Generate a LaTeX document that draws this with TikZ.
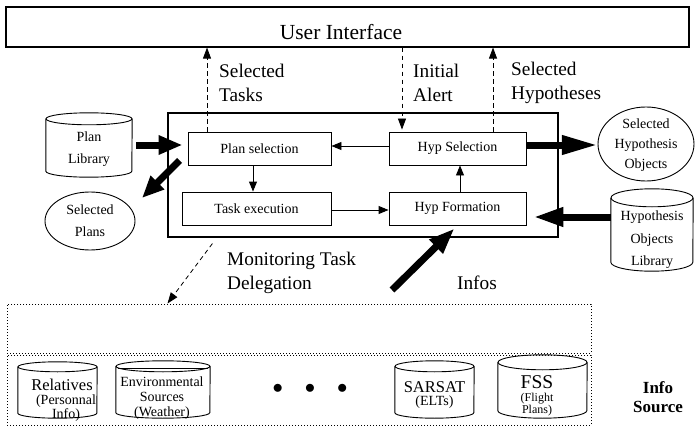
\documentclass[tikz,border=0pt]{standalone}
\usepackage{fontspec}
\setmainfont{Liberation Serif}
\usetikzlibrary{arrows.meta,calc}
% cylinder: name, cx, cy, width, height, ellipse y-radius
\newcommand{\dbcyl}[6]{%
  \node[minimum width=#4pt, minimum height=#5pt, inner sep=0pt] (#1) at (#2,#3) {};
  \draw[ln] ($(#1.north)+(0,#6)$) ellipse[x radius=#4/2, y radius=#6];
  \draw[ln] ($(#1.north west)+(0,#6)$) -- ($(#1.south west)+(0,-#6)$)
     arc[start angle=180, end angle=0, x radius=#4/2, y radius=#6]
     -- ($(#1.north east)+(0,#6)$);
}
\begin{document}
\begin{tikzpicture}[x=1pt,y=-1pt,
  ln/.style={line width=0.9pt},
  box/.style={draw, line width=0.9pt, inner sep=0pt, font=\fontsize{14}{16}\selectfont},
  big/.style={font=\fontsize{19.3}{24}\selectfont, align=left, inner sep=0pt, anchor=west},
  sm/.style={font=\fontsize{14}{22}\selectfont, align=center, inner sep=0pt},
  arr/.style={line width=0.9pt, -{Triangle[length=10pt,width=8pt]}},
  darr/.style={line width=0.8pt, dash pattern=on 4.5pt off 3.5pt, -{Triangle[length=11pt,width=8pt]}},
  fat/.style={line width=7pt, -{Triangle[length=24pt,width=18pt]}},
  dotbox/.style={draw, line width=1pt, dash pattern=on 1pt off 2pt}
]
\useasboundingbox (0,0) rectangle (697,428);

% User interface
\node[draw, line width=1.1pt, minimum width=683pt, minimum height=40pt, inner sep=0pt] (ui) at (347.5,27) {};
\node[font=\fontsize{21.5}{24}\selectfont, inner sep=0pt] (uitext) at (341,32) {User Interface};

% main box and inner boxes
\node[draw, line width=1.1pt, minimum width=390pt, minimum height=124pt, inner sep=0pt] (outer) at (363,175) {};
\node[box, minimum width=143pt, minimum height=33pt] (plansel) at (259.5,148.5) {Plan selection};
\node[box, minimum width=149pt, minimum height=33pt] (taskex) at (256.5,208.5) {Task execution};
\node[box, minimum width=137pt, minimum height=33pt] (hypsel) at (457.5,148.5) {Hyp Selection};
\node[box, minimum width=137pt, minimum height=33pt] (hypform) at (457.5,208.5) {Hyp Formation};

% inner arrows
\coordinate (cx1) at (253,0);
\coordinate (cx2) at (460,0);
\coordinate (cy1) at (0,146);
\coordinate (cy2) at (0,210);
\draw[arr] (plansel.south -| cx1) -- (taskex.north -| cx1);
\draw[arr] (hypsel.west |- cy1) -- (plansel.east |- cy1);
\draw[arr] (taskex.east |- cy2) -- (hypform.west |- cy2);
\draw[arr] (hypform.north -| cx2) -- (hypsel.south -| cx2);

% dashed arrows to/from UI
\coordinate (dx1) at (207,0);
\coordinate (dx2) at (402,0);
\coordinate (dx3) at (493,0);
\draw[darr] (plansel.north -| dx1) -- (ui.south -| dx1);
\draw[darr] (ui.south -| dx2) -- ($(hypsel.north -| dx2)+(0,-2)$);
\draw[darr] (hypsel.north -| dx3) -- (ui.south -| dx3);

\node[big] (lst) at (219,83) {Selected\\Tasks};
\node[big] (lia) at (413,83) {Initial\\Alert};
\node[big] (lsh) at (511,83) {Selected\\Hypotheses};

% plan library & selected plans
\dbcyl{plib}{89}{145}{86}{64}{6}
\node[sm] (plibt) at (89,149.5) {Plan\\Library};
\draw[ln] (90,221) ellipse[x radius=45, y radius=29];
\node[sm, minimum width=90pt, minimum height=58pt] (splans) at (90,221) {Selected\\Plans};
\draw[fat] ($(plib.east)+(4,0)$) -- ($(plansel.west |- plib.east)+(-5,0)$);
\draw[fat, -{Triangle[length=22pt,width=18pt]}] ($(plansel.south west)+(-8,-5)$) -- ($(splans.center)+(52,-23)$);

% selected hypothesis objects & library
\draw[ln] (646,144) ellipse[x radius=48, y radius=37];
\node[font=\fontsize{14}{20}\selectfont, align=center, inner sep=0pt, minimum width=96pt, minimum height=74pt] (sho) at (646,145) {Selected\\Hypothesis\\Objects};
\dbcyl{hol}{652}{230}{82}{82}{9}
\node[font=\fontsize{14}{22.5}\selectfont, align=center, inner sep=0pt] (holt) at (652,240) {Hypothesis\\Objects\\Library};
\draw[fat, -{Triangle[length=36pt,width=18pt]}] (hypsel.east |- sho.west) -- (sho.west);
\draw[fat, -{Triangle[length=30pt,width=18pt]}] ($(hol.west)+(0,-13)$) -- ($(hypform.east |- hol.west)+(7,-13)$);

% infos
\coordinate (infstart) at (392,290);
\draw[fat, -{Triangle[length=26pt,width=18pt]}] (infstart) -- ($(hypform.south)+(-3,3)$);
\node[font=\fontsize{19.3}{24}\selectfont, inner sep=0pt] (infos) at (477,283) {Infos};

% monitoring
\node[big] (mon) at (227,273) {Monitoring Task\\Delegation};

% lower dotted boxes
\node[dotbox, minimum width=584pt, minimum height=49pt, inner sep=0pt] (upper) at (299,328.5) {};
\node[dotbox, minimum width=584pt, minimum height=70pt, inner sep=0pt] (lower) at (299,390) {};
\draw[darr] ($(outer.south west)+(45,6)$) -- ($(upper.north west)+(161,0)$);

% info sources
\dbcyl{rel}{57.5}{390}{79}{56}{5}
\node[font=\fontsize{16.5}{18}\selectfont, inner sep=0pt] (relt) at (62,384.5) {Relatives};
\node[font=\fontsize{14}{11}\selectfont, align=center, inner sep=0pt] (relt2) at (66,408) {(Personnal\\Info)};

\dbcyl{env}{163}{389.5}{94}{57}{5.5}
\draw[ln] ($(env.north west)+(2,7.5)$) -- ($(env.north east)+(-2,7.5)$);
\node[font=\fontsize{14}{15}\selectfont, align=center, inner sep=0pt] (envt) at (162,398) {Environmental\\Sources\\(Weather)};

\node[font=\fontsize{22}{24}\selectfont, inner sep=0pt] (dots) at (310,389) {$\bullet\;\;\;\bullet\;\;\;\bullet$};

\dbcyl{sar}{434.5}{389.5}{79}{57}{5.5}
\node[font=\fontsize{16.5}{18}\selectfont, inner sep=0pt] (sart) at (434.5,387) {SARSAT};
\node[font=\fontsize{14}{16}\selectfont, inner sep=0pt] (sart2) at (434.5,402.5) {(ELTs)};

\dbcyl{fss}{542.5}{386.5}{89}{63}{7.5}
\node[font=\fontsize{19.5}{20}\selectfont, inner sep=0pt] (fsst) at (537,382.5) {FSS};
\node[font=\fontsize{12}{9.5}\selectfont, align=center, inner sep=0pt] (fsst2) at (537,404.5) {(Flight\\Plans)};

\node[font=\bfseries\fontsize{17}{19}\selectfont, align=center, inner sep=0pt] (isrc) at (658,397) {Info\\Source};
\end{tikzpicture}
\end{document}
